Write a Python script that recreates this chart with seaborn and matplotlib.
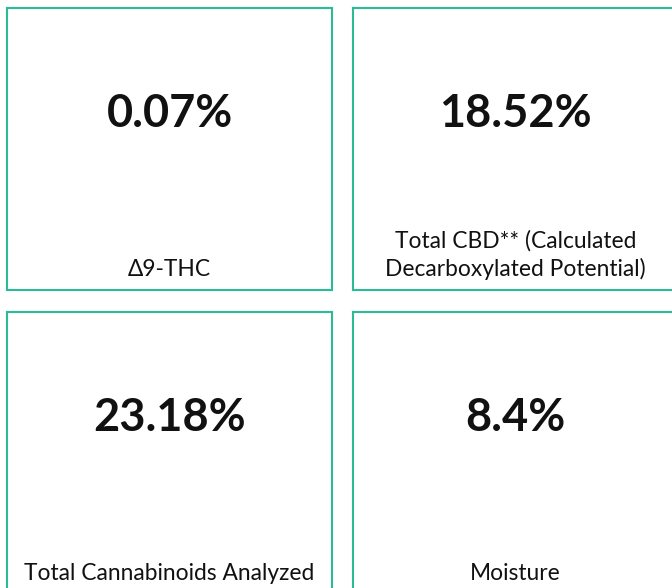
import matplotlib
matplotlib.use("Agg")
import matplotlib.pyplot as plt
import seaborn as sns

# values shown in the four tiles
metrics = ["Δ9-THC",
           "Total CBD** (Calculated\nDecarboxylated Potential)",
           "Total Cannabinoids Analyzed",
           "Moisture"]
values = [0.07, 18.52, 23.18, 8.4]

sns.set_style("white")
plt.rcParams['font.family'] = ['Lato', 'DejaVu Sans']

W, H = 672, 588
fig = plt.figure(figsize=(W / 100, H / 100), dpi=100)

teal = "#2bbb96"
# tile layout in pixels: left, top, width, height
lefts = [7, 353]
tops = [8, 312]
tile_w, tile_h = 325, 282

for i, (label, val) in enumerate(zip(metrics, values)):
    row, col = divmod(i, 2)
    x0, y0 = lefts[col], tops[row]
    ax = fig.add_axes([x0 / W, 1 - (y0 + tile_h) / H, tile_w / W, tile_h / H])
    ax.set_xticks([])
    ax.set_yticks([])
    ax.set_facecolor("white")
    for s in ax.spines.values():
        s.set_visible(True)
        s.set_color(teal)
        s.set_linewidth(1.5)
    ax.text(0.5, 0.625, f"{val:g}%", ha='center', va='center',
            fontsize=32.5, fontweight='bold', color='#111111', transform=ax.transAxes)
    ax.text(0.5, 0.037, label, ha='center', va='bottom', fontsize=16.4,
            color='#111111', linespacing=1.32, transform=ax.transAxes)

fig.savefig("out.png", dpi=100)
